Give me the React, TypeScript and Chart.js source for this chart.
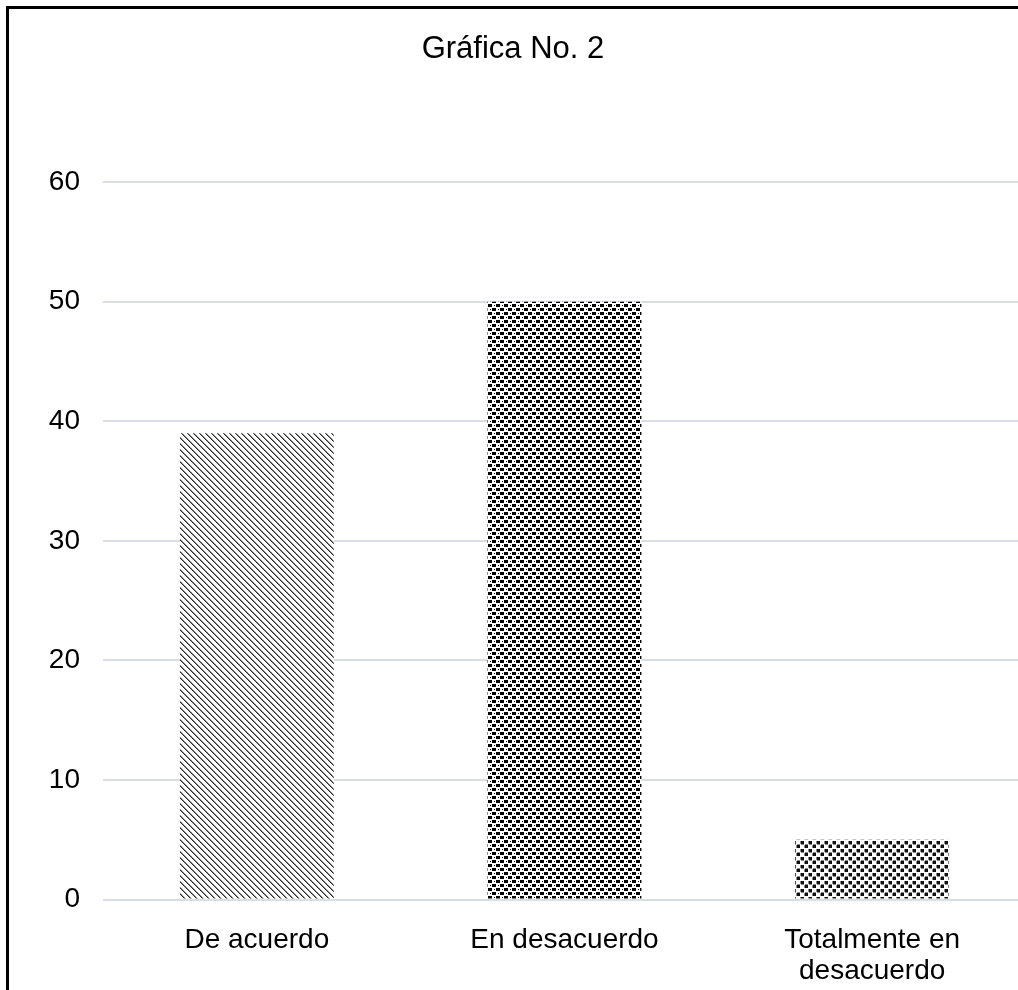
import React, { useEffect, useRef } from "react";
import { Chart, registerables } from "chart.js";

Chart.register(...registerables);

const categories: (string | string[])[] = ["De acuerdo", "En desacuerdo", ["Totalmente en", "desacuerdo"]];
const values: number[] = [39, 50, 5];
const titleText = "Gráfica No. 2";
const yMin = 0;
const yMax = 60;
const yStep = 10;

function makeTile(size: number, draw: (ctx: CanvasRenderingContext2D) => void): CanvasPattern | string {
  const c = document.createElement("canvas");
  c.width = size;
  c.height = size;
  const ctx = c.getContext("2d");
  if (!ctx) return "#666";
  ctx.fillStyle = "#ffffff";
  ctx.fillRect(0, 0, size, size);
  draw(ctx);
  const p = ctx.createPattern(c, "repeat");
  return p || "#666";
}

function diagonalPattern() {
  return makeTile(6, (ctx) => {
    for (let i = 0; i < 6; i++) {
      ctx.fillStyle = "#2a2a2a";
      ctx.fillRect(i, i, 1, 1);
      ctx.fillStyle = "#8a8a8a";
      ctx.fillRect((i + 1) % 6, i, 1, 1);
    }
  });
}

function squaresPattern() {
  return makeTile(8, (ctx) => {
    ctx.fillStyle = "#000";
    ctx.fillRect(0, 0, 4, 3);
    ctx.fillRect(4, 4, 4, 3);
    ctx.fillRect(6, 1, 1, 1);
    ctx.fillRect(2, 5, 1, 1);
  });
}

function dotsPattern() {
  return makeTile(8, (ctx) => {
    ctx.fillStyle = "#111";
    ctx.fillRect(1, 1, 3, 3);
    ctx.fillRect(5, 5, 3, 3);
    ctx.fillStyle = "#888";
    ctx.fillRect(0, 1, 1, 3);
    ctx.fillRect(1, 4, 3, 1);
    ctx.fillRect(4, 5, 1, 3);
    ctx.fillRect(5, 4, 3, 1);
  });
}

export default function App() {
  const ref = useRef<HTMLCanvasElement | null>(null);

  useEffect(() => {
    if (!ref.current) return;
    const fills = [diagonalPattern(), squaresPattern(), dotsPattern()];
    const chart = new Chart(ref.current, {
      type: "bar",
      data: {
        labels: categories,
        datasets: [
          {
            data: values,
            backgroundColor: fills as any,
            borderWidth: 0,
            barPercentage: 0.5,
            categoryPercentage: 1,
          },
        ],
      },
      options: {
        animation: false,
        responsive: false,
        maintainAspectRatio: false,
        layout: { padding: { left: 0, right: 14, top: 0, bottom: 6 } },
        plugins: {
          legend: { display: false },
          tooltip: { enabled: false },
          title: {
            display: true,
            text: titleText,
            color: "#000",
            font: { family: "'Liberation Sans', Arial, sans-serif", size: 31, weight: "normal" as any, lineHeight: 1.2 },
            padding: { top: 31, bottom: 114 },
          },
        },
        scales: {
          x: {
            grid: { display: false, drawTicks: false },
            border: { display: false },
            ticks: {
              color: "#000",
              padding: 26,
              maxRotation: 0,
              autoSkip: false,
              font: { family: "'Liberation Sans', Arial, sans-serif", size: 28, lineHeight: 1.08 },
            },
          },
          y: {
            min: yMin,
            max: yMax,
            afterFit: (scale: any) => {
              scale.width = 103;
            },
            grid: { color: "#dadee4", lineWidth: 2, drawTicks: false },
            border: { display: false },
            ticks: {
              stepSize: yStep,
              color: "#000",
              padding: 23,
              font: { family: "'Liberation Sans', Arial, sans-serif", size: 28 },
            },
          },
        },
      },
    });
    return () => chart.destroy();
  }, []);

  return (
    <div style={{ position: "fixed", left: 0, top: 0, width: 1018, height: 990, overflow: "hidden", background: "#fff" }}>
      <canvas ref={ref} width={1040} height={1018} style={{ position: "absolute", left: 0, top: 0, width: 1040, height: 1018 }} />
      <div
        style={{
          position: "absolute",
          left: 6,
          top: 6,
          width: 2000,
          height: 2000,
          borderLeft: "3px solid #000",
          borderTop: "3px solid #000",
          pointerEvents: "none",
        }}
      />
    </div>
  );
}
